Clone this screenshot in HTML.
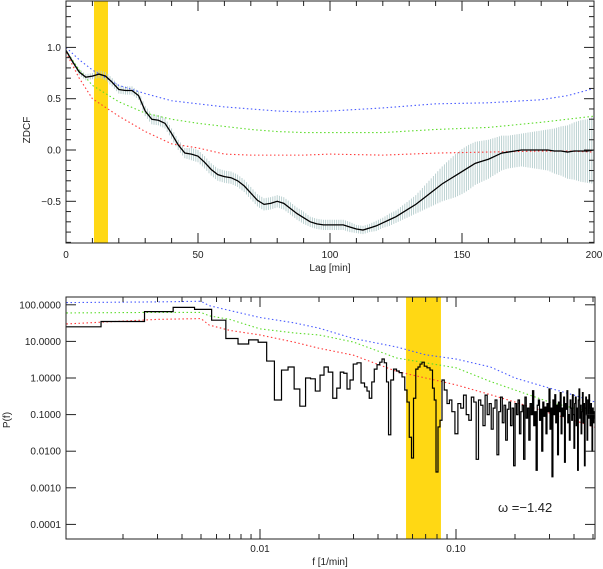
<!DOCTYPE html>
<html><head><meta charset="utf-8">
<style>
html,body{margin:0;padding:0;background:#fff;}
svg{display:block;font-family:"Liberation Sans",sans-serif;}
text{fill:#222;font-size:10px;}
</style></head>
<body>
<svg id="chart" width="603" height="569" viewBox="0 0 603 569" xmlns="http://www.w3.org/2000/svg"></svg>
<script>
// ---------- TOP PANEL DATA (ZDCF) ----------
const lagStep = 2.5;
const zdcf = [0.97,0.86,0.76,0.71,0.72,0.74,0.72,0.66,0.59,0.58,0.58,0.53,0.38,0.30,0.29,0.26,0.16,0.05,-0.03,-0.04,-0.06,-0.12,-0.19,-0.24,-0.26,-0.27,-0.30,-0.35,-0.42,-0.49,-0.53,-0.52,-0.50,-0.52,-0.57,-0.62,-0.66,-0.70,-0.72,-0.73,-0.73,-0.73,-0.73,-0.75,-0.77,-0.78,-0.76,-0.74,-0.71,-0.68,-0.65,-0.61,-0.57,-0.53,-0.48,-0.43,-0.38,-0.33,-0.29,-0.25,-0.21,-0.17,-0.13,-0.11,-0.09,-0.06,-0.03,-0.02,-0.01,0.0,0.0,0.0,0.0,0.0,-0.01,-0.01,-0.02,-0.01,-0.01,-0.01,0.0];
const zdcfErr = [0.01,0.02,0.03,0.03,0.03,0.04,0.04,0.04,0.04,0.04,0.04,0.04,0.05,0.05,0.05,0.05,0.05,0.05,0.05,0.06,0.06,0.06,0.06,0.06,0.06,0.06,0.06,0.06,0.06,0.06,0.06,0.06,0.06,0.06,0.06,0.06,0.06,0.05,0.05,0.05,0.05,0.05,0.05,0.05,0.04,0.04,0.04,0.05,0.05,0.06,0.06,0.07,0.08,0.09,0.11,0.13,0.15,0.17,0.19,0.21,0.22,0.22,0.21,0.20,0.19,0.18,0.17,0.16,0.16,0.16,0.17,0.18,0.19,0.20,0.22,0.24,0.26,0.28,0.30,0.31,0.33];
const simLags = [0,5,10,20,30,40,50,60,70,80,90,100,120,140,160,180,190,200];
const simBlue = [1.0,0.88,0.78,0.63,0.55,0.48,0.45,0.42,0.40,0.38,0.37,0.38,0.41,0.45,0.46,0.49,0.53,0.60];
const simGreen = [0.97,0.78,0.63,0.47,0.36,0.30,0.26,0.23,0.20,0.18,0.17,0.17,0.17,0.20,0.22,0.27,0.30,0.33];
const simRed = [0.95,0.70,0.50,0.33,0.18,0.06,0.02,-0.04,-0.05,-0.05,-0.05,-0.04,-0.05,-0.03,-0.02,-0.01,-0.01,-0.02];
const lagBand = [10.6,15.9];
const topXTicks = [0,50,100,150,200];
const topYTicks = [-0.5,0.0,0.5,1.0];
const topYLabels = ["\u22120.5","0.0","0.5","1.0"];

// ---------- BOTTOM PANEL DATA (power spectrum) ----------
const loFreq = [0.00103,0.00206,0.00309,0.00412,0.00515,0.00618,0.00721,0.00824,0.00927,0.0103,0.01133,0.01236,0.01339,0.01442,0.01545,0.01648,0.01768,0.01853,0.01977,0.02072,0.02171,0.02289,0.02413,0.02515,0.02621,0.02731,0.02828,0.02930,0.03052,0.03200,0.03354,0.03474,0.03556,0.03663,0.03772,0.03885,0.04024,0.04143,0.04242,0.04369,0.04473,0.04580,0.04716,0.04884,0.05059,0.05210,0.05396,0.05557,0.05690,0.05860,0.05999,0.06142,0.06324,0.06475,0.06630,0.06786,0.06988,0.07238,0.07499,0.07677,0.07815,0.07999,0.08189,0.08384,0.08584,0.08841,0.09158];
const loPower = [25,35,65,85,75,38,12,8.5,11,9.5,2.9,0.25,1.65,2.0,0.5,0.17,1.0,0.95,0.44,1.2,2.0,1.45,0.28,0.53,1.45,1.35,0.5,0.88,2.4,2.6,0.73,0.57,0.44,0.28,0.78,1.75,2.3,2.7,3.3,2.6,0.78,0.028,0.88,1.75,1.55,1.4,1.07,0.47,0.22,0.024,0.0065,0.28,1.75,2.0,2.4,2.7,2.1,1.9,1.65,0.53,0.25,0.0027,0.046,0.07,0.88,0.47,0.2];
const hiStart = 0.0935, hiStep = 0.0035;
const hiPower = [0.25,0.12,0.03,0.2,0.15,0.34,0.1,0.07,0.3,0.22,0.006,0.25,0.18,0.05,0.34,
0.1,0.2,0.04,0.15,0.25,0.008,0.12,0.3,0.06,0.18,0.02,0.14,0.22,0.05,
0.15,0.004,0.2,0.1,0.25,0.03,0.12,0.18,0.006,0.3,0.08,0.15,0.02,0.2,0.1,0.45,0.05,0.12,0.003,0.18,0.25,0.07,0.14,0.01,0.22,0.09,0.16,0.03,0.2,
0.12,0.5,0.04,0.15,0.002,0.25,0.1,0.35,0.06,0.18,0.008,0.22,0.12,0.4,0.03,0.15,0.09,0.3,0.005,0.2,0.14,0.45,0.06,0.1,0.02,0.25,0.15,0.07,0.35,
0.1,0.012,0.2,0.3,0.05,0.15,0.003,0.25,0.5,0.08,0.18,0.03,0.12,0.4,0.06,0.2,0.004,0.15,0.3,0.1,0.02,0.25,0.08,0.35,0.15,0.05,0.2,0.1,0.01,0.15,0.06,0.12,0.08];
const modelFreq = [0.00103,0.003,0.005,0.0055,0.007,0.01,0.015,0.02,0.03,0.05,0.07,0.1,0.15,0.2,0.3,0.4,0.513];
const modelBlue = [115,120,125,95,70,45,32,23,12,7,4.3,3.3,2.0,1.0,0.53,0.34,0.22];
const modelGreen = [60,62,62,50,40,22,17,15,9.6,3.5,2.6,1.9,0.8,0.47,0.22,0.15,0.12];
const modelRed = [30,40,42,28,20,15,9.5,6.5,4.2,1.5,1.0,0.65,0.35,0.22,0.11,0.07,0.045];
const freqBand = [0.0556,0.0838];
const botYTicks = [100,10,1,0.1,0.01,0.001,0.0001];
const botYLabels = ["100.0000","10.0000","1.0000","0.1000","0.0100","0.0010","0.0001"];
const botXTicks = [0.01,0.1];
const botXLabels = ["0.01","0.10"];
const slopeLabel = "\u03c9 =\u22121.42";

// ---------- helpers ----------
const NS="http://www.w3.org/2000/svg";
const svg=document.getElementById('chart');
function mk(tag,attrs,parent){const e=document.createElementNS(NS,tag);for(const k in attrs)e.setAttribute(k,attrs[k]);(parent||svg).appendChild(e);return e;}

const T={x0:66,x1:594,y0:1,y1:243};
const xT=l=>66+(594-66)*l/200;
const yT=v=>150-102.6*v;
const B={x0:66,x1:595,y0:297,y1:539};
const xB=f=>260+196*Math.log10(f/0.01);
const yB=p=>378-36.6*Math.log10(p);

// ===== TOP PANEL =====
const gTop=mk('g',{});


const band1=mk('rect',{x:xT(lagBand[0]),y:T.y0,width:xT(lagBand[1])-xT(lagBand[0]),height:T.y1-T.y0,fill:'#ffd814'},gTop);



const gErr=mk('g',{stroke:'#b4cccc','stroke-width':0.9},gTop);


zdcf.forEach((v,i)=>{
  for(let s=0;s<3;s++){
    const l=i*lagStep+s*lagStep/3; if(l>200)break;
    const j=Math.min(i+1,zdcf.length-1), t=s/3;
    const vv=v+(zdcf[j]-v)*t, ee=zdcfErr[i]+(zdcfErr[j]-zdcfErr[i])*t;
    const ln=mk('line',{x1:xT(l),x2:xT(l),y1:yT(vv-ee),y2:yT(vv+ee)},gErr);
    
    
  }
});

function simLine(arr,color,name){
  const p=mk('polyline',{points:arr.map((v,i)=>xT(simLags[i])+','+yT(v)).join(' '),fill:'none',stroke:color,'stroke-width':1.1,'stroke-dasharray':'1.5,2.5'},gTop);
  
  
}
simLine(simBlue,'#4a5cff','zdcf-sim-blue');
simLine(simGreen,'#5cdc2a','zdcf-sim-green');
simLine(simRed,'#ff3a3a','zdcf-sim-red');

const zl=mk('polyline',{points:zdcf.map((v,i)=>xT(i*lagStep)+','+yT(v)).join(' '),fill:'none',stroke:'#000','stroke-width':1.3},gTop);



const f1=mk('rect',{x:T.x0,y:T.y0,width:T.x1-T.x0,height:T.y1-T.y0,fill:'none',stroke:'#222','stroke-width':1},gTop);


const tk1=mk('g',{stroke:'#222','stroke-width':1},gTop);
for(let l=0;l<=200;l+=10){
  const big=l%50===0, len=big?10:5;
  mk('line',{x1:xT(l),x2:xT(l),y1:T.y1,y2:T.y1-len},tk1);
  mk('line',{x1:xT(l),x2:xT(l),y1:T.y0,y2:T.y0+len},tk1);
}
for(let k=-9;k<=14;k++){
  const v=k/10, y=yT(v); if(y<T.y0||y>T.y1)continue;
  const big=(k%5===0), len=big?10:5;
  mk('line',{x1:T.x0,x2:T.x0+len,y1:y,y2:y},tk1);
  mk('line',{x1:T.x1,x2:T.x1-len,y1:y,y2:y},tk1);
}
topXTicks.forEach(l=>{const t=mk('text',{x:xT(l),y:258,'text-anchor':'middle'},gTop);t.textContent=l;
  
  });
topYTicks.forEach((v,i)=>{const t=mk('text',{x:61,y:yT(v)+3.5,'text-anchor':'end'},gTop);t.textContent=topYLabels[i];
  
  });
const xt1=mk('text',{x:330,y:271,'text-anchor':'middle'},gTop);xt1.textContent='Lag [min]';


const yt1=mk('text',{x:30,y:130,'text-anchor':'middle',transform:'rotate(-90 30 130)'},gTop);yt1.textContent='ZDCF';



// ===== BOTTOM PANEL =====
const gBot=mk('g',{});


const clip=mk('clipPath',{id:'cb'},svg);mk('rect',{x:B.x0,y:B.y0,width:B.x1-B.x0,height:B.y1-B.y0},clip);
const band2=mk('rect',{x:xB(freqBand[0]),y:B.y0,width:xB(freqBand[1])-xB(freqBand[0]),height:B.y1-B.y0,fill:'#ffd814'},gBot);



function modelLine(arr,color,name){
  const p=mk('polyline',{points:arr.map((v,i)=>xB(modelFreq[i])+','+yB(v)).join(' '),fill:'none',stroke:color,'stroke-width':1.1,'stroke-dasharray':'1.5,2.5','clip-path':'url(#cb)'},gBot);
  
  
}
modelLine(modelBlue,'#4a5cff','psd-model-blue');
modelLine(modelGreen,'#5cdc2a','psd-model-green');
modelLine(modelRed,'#ff3a3a','psd-model-red');

const fr=loFreq.slice(), pw=loPower.slice();
hiPower.forEach((p,i)=>{fr.push(hiStart+i*hiStep);pw.push(p);});
let pts=[];
for(let i=0;i<fr.length;i++){
  const lo=i===0?fr[0]*0.5:(fr[i-1]+fr[i])/2;
  const hi=i===fr.length-1?fr[i]+(fr[i]-fr[i-1])/2:(fr[i]+fr[i+1])/2;
  pts.push(xB(lo)+','+yB(pw[i]));pts.push(xB(hi)+','+yB(pw[i]));
}
const sp=mk('polyline',{points:pts.join(' '),fill:'none',stroke:'#000','stroke-width':1.2,'clip-path':'url(#cb)'},gBot);



const f2=mk('rect',{x:B.x0,y:B.y0,width:B.x1-B.x0,height:B.y1-B.y0,fill:'none',stroke:'#222','stroke-width':1},gBot);


const tk2=mk('g',{stroke:'#222','stroke-width':1},gBot);
[0.001,0.01,0.1].forEach(dec=>{for(let m=1;m<=9;m++){const f=dec*m,x=xB(f);if(x<B.x0||x>B.x1)continue;
  const len=m===1?10:5;
  mk('line',{x1:x,x2:x,y1:B.y1,y2:B.y1-len},tk2);mk('line',{x1:x,x2:x,y1:B.y0,y2:B.y0+len},tk2);}});
botYTicks.forEach((p,i)=>{const y=yB(p);
  mk('line',{x1:B.x0,x2:B.x0+10,y1:y,y2:y},tk2);mk('line',{x1:B.x1,x2:B.x1-10,y1:y,y2:y},tk2);
  const t=mk('text',{x:61,y:y+3.5,'text-anchor':'end'},gBot);t.textContent=botYLabels[i];
  
  });
botXTicks.forEach((f,i)=>{const t=mk('text',{x:xB(f),y:552,'text-anchor':'middle'},gBot);t.textContent=botXLabels[i];
  
  });
const xt2=mk('text',{x:330,y:565,'text-anchor':'middle'},gBot);xt2.textContent='f [1/min]';


const yt2=mk('text',{x:10,y:420,'text-anchor':'middle',transform:'rotate(-90 10 420)'},gBot);yt2.textContent='P(f)';


const sl=mk('text',{x:498,y:512,style:'font-size:13px'},gBot);sl.textContent=slopeLabel;


</script>
</body></html>
